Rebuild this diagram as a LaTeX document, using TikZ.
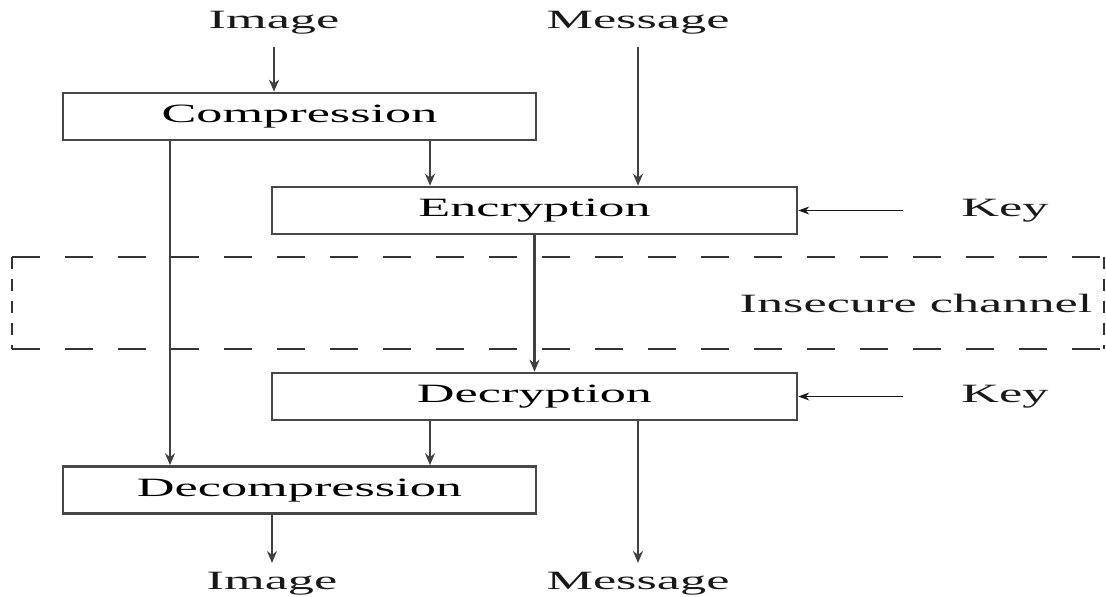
\documentclass[tikz,border=0pt]{standalone}
\usepackage{fontspec}
\setmainfont{Liberation Serif}[FakeStretch=1.98]
\usetikzlibrary{arrows.meta,calc}
\begin{document}
\begin{tikzpicture}[x=0.5pt,y=-0.5pt,
  box/.style={draw=black!72, line width=1.3pt, fill=white, minimum height=23.5pt,
    inner sep=0pt, text height=0.74em, text depth=0.14em, font=\fontsize{13.2}{15}\selectfont},
  lbl/.style={anchor=base, inner sep=0pt, font=\fontsize{13.2}{15}\selectfont, text=black!90},
  flow/.style={draw=black!75, line width=1.25pt, -{Stealth[length=6pt,width=5pt]}},
  keyarrow/.style={draw=black!90, line width=0.7pt, -{Stealth[length=5.5pt,width=4pt]}},
  chanh/.style={draw=black!80, line width=0.8pt, dash pattern=on 14pt off 12.5pt},
  chanv/.style={draw=black!80, line width=0.8pt, dash pattern=on 6pt off 5pt}]
\useasboundingbox (0,0) rectangle (1106,597);

% insecure channel (dashed frame)
\coordinate (chNW) at (12,257);
\coordinate (chSE) at (1104,349);
\draw[chanh] (chNW) -- (chNW -| chSE);
\draw[chanh] (chNW |- chSE) -- (chSE);
\draw[chanv] (chNW) -- (chNW |- chSE);
\draw[chanv] (chNW -| chSE) -- (chSE);
\node[lbl] (chan) at (916,313) {Insecure channel};

% boxes
\node[box, minimum width=236.5pt] (comp) at (299.5,116.5) {Compression};
\node[box, minimum width=262.5pt] (enc) at (534.5,210.5) {Encryption};
\node[box, minimum width=262.5pt] (dec) at (534.5,396.5) {Decryption};
\node[box, minimum width=236.5pt] (decomp) at (299.5,490) {Decompression};

% labels
\node[lbl] (imgtop) at (274,29) {Image};
\node[lbl] (msgtop) at (638,29) {Message};
\node[lbl] (key1) at (1005,217) {Key};
\node[lbl] (key2) at (1005,403) {Key};
\node[lbl] (imgbot) at (272,589) {Image};
\node[lbl] (msgbot) at (638,589) {Message};

% connector helpers
\coordinate (imgin) at (274,47);
\coordinate (msgin) at (638,47);
\coordinate (c1) at (170,0);
\coordinate (c2) at (430,0);
\coordinate (imgout) at (272,563);
\coordinate (msgout) at (638,563);
\coordinate (k1) at (903,210.5);
\coordinate (k2) at (903,396.5);

% connectors
\draw[flow] (imgin) -- (imgin |- comp.north);
\draw[flow] (msgin) -- (msgin |- enc.north);
\draw[flow] (c1 |- comp.south) -- (c1 |- decomp.north);
\draw[flow] (c2 |- comp.south) -- (c2 |- enc.north);
\draw[flow] (enc.south) -- (dec.north);
\draw[flow] (c2 |- dec.south) -- (c2 |- decomp.north);
\draw[flow] (imgout |- decomp.south) -- (imgout);
\draw[flow] (msgout |- dec.south) -- (msgout);
\draw[keyarrow] (k1) -- (enc.east);
\draw[keyarrow] (k2) -- (dec.east);
\end{tikzpicture}
\end{document}
